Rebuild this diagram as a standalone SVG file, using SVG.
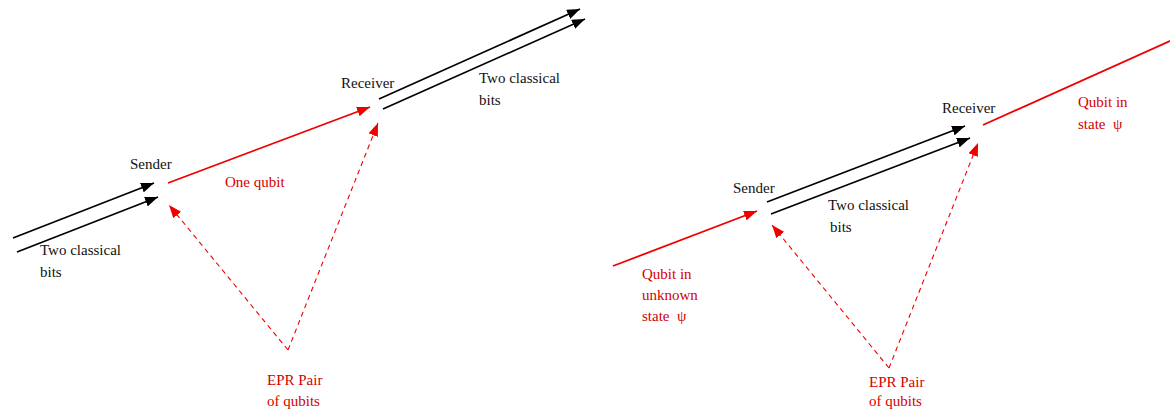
<svg xmlns="http://www.w3.org/2000/svg" width="1170" height="412" viewBox="0 0 1170 412">
<style>
text{font-family:"Liberation Serif","Times New Roman",serif;font-size:15px}
.k{fill:#111}
.r{fill:#d40000}
.bl{stroke:#000;stroke-width:1.7;fill:none}
.rl{stroke:#ee0000;stroke-width:1.8;fill:none}
.rd{stroke:#ee0000;stroke-width:1.1;fill:none;stroke-dasharray:5 4}
</style>
<defs>
<marker id="ab" markerUnits="userSpaceOnUse" markerWidth="14" markerHeight="10" refX="13" refY="5" orient="auto"><path d="M0,0 L13,5 L0,10 z" fill="#000"/></marker>
<marker id="ar" markerUnits="userSpaceOnUse" markerWidth="14" markerHeight="10" refX="13" refY="5" orient="auto"><path d="M0,0 L13,5 L0,10 z" fill="#ee0000"/></marker>
</defs>
<g id="connectors">
<line class="bl" x1="13" y1="238" x2="154" y2="183" marker-end="url(#ab)"/>
<line class="bl" x1="17" y1="252" x2="158" y2="197" marker-end="url(#ab)"/>
<line class="rl" x1="168" y1="183" x2="370" y2="107" marker-end="url(#ar)"/>
<line class="rd" x1="288" y1="350" x2="169" y2="205" marker-end="url(#ar)"/>
<line class="rd" x1="288" y1="350" x2="378" y2="123" marker-end="url(#ar)"/>
<line class="bl" x1="379" y1="99" x2="580" y2="9" marker-end="url(#ab)"/>
<line class="bl" x1="383" y1="109" x2="585" y2="19" marker-end="url(#ab)"/>
<line class="rl" x1="613" y1="266" x2="757" y2="211" marker-end="url(#ar)"/>
<line class="bl" x1="767" y1="202" x2="965" y2="126" marker-end="url(#ab)"/>
<line class="bl" x1="771" y1="214" x2="970" y2="138" marker-end="url(#ab)"/>
<line class="rl" x1="983" y1="125" x2="1172" y2="40"/>
<line class="rd" x1="889" y1="368" x2="772" y2="225" marker-end="url(#ar)"/>
<line class="rd" x1="889" y1="368" x2="978" y2="143" marker-end="url(#ar)"/>
</g>
<g id="sender1"><text class="k" x="130" y="169">Sender</text></g>
<g id="receiver1"><text class="k" x="341" y="88">Receiver</text></g>
<g id="onequbit"><text class="r" x="225" y="187">One qubit</text></g>
<g id="bits1"><text class="k" x="40" y="255">Two classical</text><text class="k" x="40" y="277">bits</text></g>
<g id="bits2"><text class="k" x="479" y="83">Two classical</text><text class="k" x="479" y="105">bits</text></g>
<g id="epr1"><text class="r" x="267" y="385">EPR Pair</text><text class="r" x="267" y="406">of qubits</text></g>
<g id="sender2"><text class="k" x="733" y="193">Sender</text></g>
<g id="receiver2"><text class="k" x="942" y="113">Receiver</text></g>
<g id="bits3"><text class="k" x="828" y="210">Two classical</text><text class="k" x="830" y="232">bits</text></g>
<g id="qubitin"><text class="r" x="642" y="279">Qubit in</text><text class="r" x="642" y="300">unknown</text><text class="r" x="642" y="321" style="white-space:pre">state  ψ</text></g>
<g id="qubitout"><text class="r" x="1078" y="107">Qubit in</text><text class="r" x="1078" y="129" style="white-space:pre">state  ψ</text></g>
<g id="epr2"><text class="r" x="869" y="387">EPR Pair</text><text class="r" x="869" y="406">of qubits</text></g>
</svg>
